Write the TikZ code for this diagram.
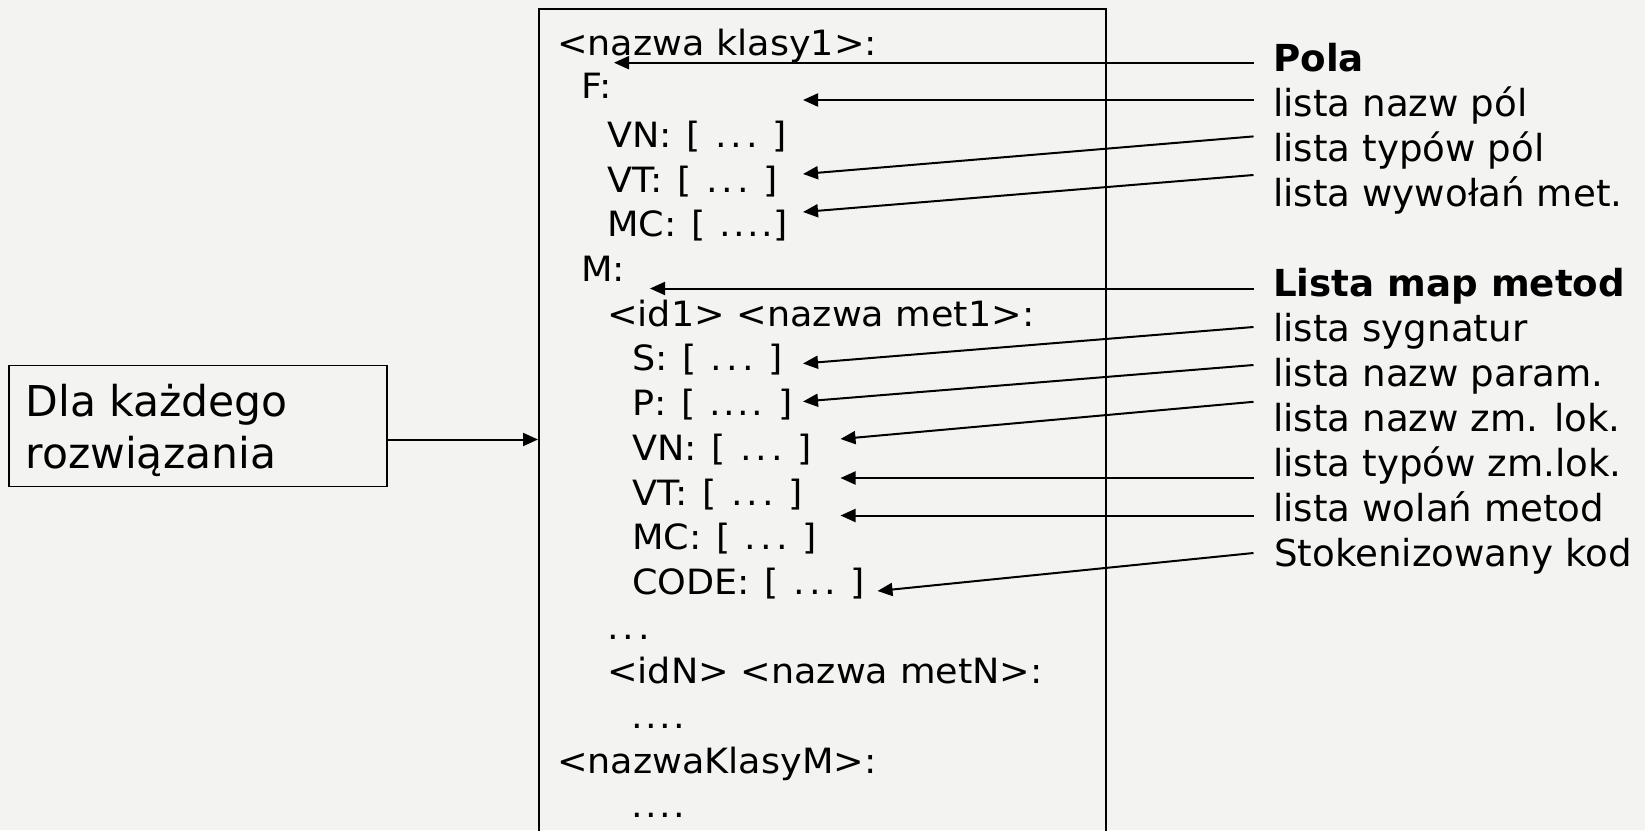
\documentclass[tikz,border=0pt]{standalone}
\usepackage{fontspec}
\setmainfont{DejaVu Sans}
\newfontfamily\boxfont{DejaVu Sans}[FakeStretch=1.05]
\usetikzlibrary{arrows.meta}
\definecolor{bg}{RGB}{243,243,241}
\newcommand\el{.\kern.12em.\kern.12em.}
\newcommand\elf{.\kern.07em.\kern.07em.\kern.07em.}
\newcommand\gs{\hspace*{14.5pt}}
\begin{document}
\begin{tikzpicture}[x=1pt,y=-1pt,
  txt/.style={anchor=base west,inner sep=0pt,font=\boxfont\fontsize{34.8}{44}\selectfont},
  lbl/.style={anchor=base west,inner sep=0pt,font=\fontsize{37.2}{44}\selectfont},
  blbl/.style={lbl,font=\fontsize{37.2}{44}\selectfont\bfseries},
  ptr/.style={line width=2pt,-{Triangle[length=15pt,width=13pt]}},
]
\fill[bg] (0,0) rectangle (1645,830);
\useasboundingbox (0,0) rectangle (1645,830);
% main box
\node[draw,line width=2pt,minimum width=567pt,minimum height=860pt,anchor=north west,inner sep=0pt] (main) at (538,7.5) {};
% box text
\node[txt] (l0)  at (557,55)    {<nazwa klasy1>:};
\node[txt] (l1)  at (581,98.3)  {F:};
\node[txt] (l2)  at (607,147.4) {VN:\gs[\gs\el\gs]};
\node[txt] (l3)  at (607,192.1) {VT:\gs[\gs\el\gs]};
\node[txt] (l4)  at (607,236.8) {MC:\gs[\gs\elf]};
\node[txt] (l5)  at (581,281.5) {M:};
\node[txt] (l6)  at (607,326.2) {<id1> <nazwa met1>:};
\node[txt] (l7)  at (632,370.9) {S:\gs[\gs\el\gs]};
\node[txt] (l8)  at (632,415.6) {P:\gs[\gs\elf\gs]};
\node[txt] (l9)  at (632,460.3) {VN:\gs[\gs\el\gs]};
\node[txt] (l10) at (632,505)   {VT:\gs[\gs\el\gs]};
\node[txt] (l11) at (632,549.7) {MC:\gs[\gs\el\gs]};
\node[txt] (l12) at (632,594.4) {CODE:\gs[\gs\el\gs]};
\node[txt] (l13) at (607,639.1) {\el};
\node[txt] (l14) at (607,683.8) {<idN> <nazwa metN>:};
\node[txt] (l15) at (631,728.5) {\elf};
\node[txt] (l16) at (557,773.2) {<nazwaKlasyM>:};
\node[txt] (l17) at (631,817.9) {\elf};
% right labels
\node[blbl] (r1)  at (1273,71)  {Pola};
\node[lbl]  (r2)  at (1273,116) {lista nazw pól};
\node[lbl]  (r3)  at (1273,161) {lista typów pól};
\node[lbl]  (r4)  at (1273,206) {lista wywołań met.};
\node[blbl] (r5)  at (1273,296) {Lista map metod};
\node[lbl]  (r6)  at (1273,341) {lista sygnatur};
\node[lbl]  (r7)  at (1273,386) {lista nazw param.};
\node[lbl]  (r8)  at (1273,431) {lista nazw zm. lok.};
\node[lbl]  (r9)  at (1273,476) {lista typów zm.lok.};
\node[lbl]  (r10) at (1273,521) {lista wolań metod};
\node[lbl]  (r11) at (1274,566) {Stokenizowany kod};
% arrow ends
\coordinate (s1) at (1253.5,62.7);  \coordinate (t1) at (614,62.7);
\coordinate (s2) at (1253.5,100);   \coordinate (t2) at (803,100);
\coordinate (s3) at (1253.5,136.4); \coordinate (t3) at (803,174);
\coordinate (s4) at (1253.5,175);   \coordinate (t4) at (803,212);
\coordinate (s5) at (1253.5,288.5); \coordinate (t5) at (650,288.5);
\coordinate (s6) at (1253.5,327);   \coordinate (t6) at (803,363.5);
\coordinate (s7) at (1253.5,365);   \coordinate (t7) at (803,401.5);
\coordinate (s8) at (1253.5,401.8); \coordinate (t8) at (840.5,439);
\coordinate (s9) at (1253.5,478);   \coordinate (t9) at (840.5,478);
\coordinate (s10) at (1253.5,515.5);\coordinate (t10) at (840.5,515.5);
\coordinate (s11) at (1253.5,553);  \coordinate (t11) at (877.5,591);
\foreach \i in {1,...,11} { \draw[ptr] (s\i) -- (t\i); }
% left box
\node[draw,line width=1.4pt,minimum width=378pt,minimum height=121pt,anchor=north west,inner sep=0pt] (sol) at (8.4,365) {};
\node[anchor=north west,align=left,inner sep=0pt,font=\fontsize{42.5}{51.3}\selectfont] (soltxt) at (25.3,384.5) {Dla każdego\\rozwiązania};
\coordinate (a0) at (386.4,439.5);
\draw[ptr] (a0) -- (a0 -| main.west);
\end{tikzpicture}
\end{document}
